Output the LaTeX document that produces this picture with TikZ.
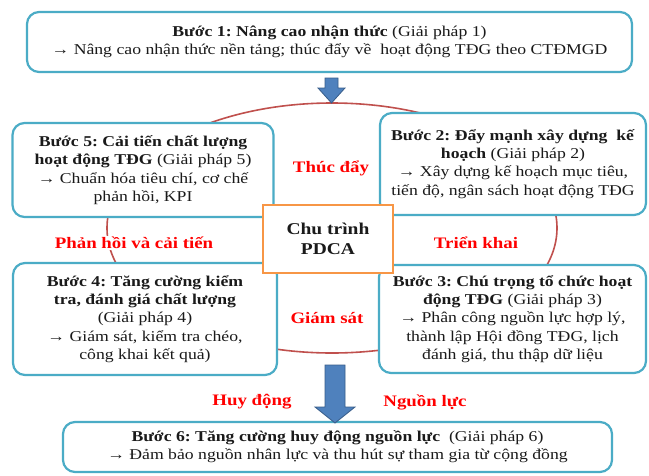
\documentclass[tikz,border=0pt]{standalone}
\usepackage{fontspec}
\setmainfont{Liberation Serif}[FakeStretch=1.18]
\frenchspacing
\definecolor{boxc}{HTML}{4BACC6}
\definecolor{pdcac}{HTML}{F79646}
\definecolor{cyc}{HTML}{C0504D}
\definecolor{arrf}{HTML}{4F81BD}
\definecolor{arrd}{HTML}{385D8A}
\definecolor{txt}{HTML}{1A1A1A}
\definecolor{labc}{HTML}{FF0000}
\begin{document}
\begin{tikzpicture}[x=1pt,y=-1pt,
  stepbox/.style={draw=boxc, line width=2.2pt, rounded corners=12pt, fill=white, align=center, inner sep=0pt, text=txt, font=\fontsize{15}{18.3}\selectfont},
  pdcabox/.style={draw=pdcac, line width=2pt, fill=white, align=center, inner sep=0pt, text=txt, font=\bfseries\fontsize{16.5}{20}\selectfont},
  lab/.style={text=labc, font=\bfseries\fontsize{16}{18}\selectfont, inner sep=1pt},
  blockarrow/.style={fill=arrf, draw=arrd, line width=0.8pt}
  ]
\useasboundingbox (0,0) rectangle (649,475);
\fill[white] (0,0) rectangle (649,475);
% PDCA cycle
\draw[cyc, line width=1.6pt] (332,228) ellipse [x radius=225, y radius=125];
% steps
\node[stepbox, minimum width=605, minimum height=60] (s1) at (329.5,42)
  {\textbf{Bước 1: Nâng cao nhận thức} (Giải pháp 1)\\
   → Nâng cao nhận thức nền tảng; thúc đẩy về\ \ hoạt động TĐG theo CTĐMGD};
\node[stepbox, minimum width=261, minimum height=94] (s5) at (143,170)
  {\textbf{Bước 5: Cải tiến chất lượng}\\
   \textbf{hoạt động TĐG} (Giải pháp 5)\\
   → Chuẩn hóa tiêu chí, cơ chế\\
   phản hồi, KPI};
\node[stepbox, minimum width=266, minimum height=102] (s2) at (513,164)
  {\textbf{Bước 2: Đẩy mạnh xây dựng\ \ kế}\\
   \textbf{hoạch} (Giải pháp 2)\\
   → Xây dựng kế hoạch mục tiêu,\\
   tiến độ, ngân sách hoạt động TĐG};
\node[stepbox, minimum width=264, minimum height=112] (s4) at (145,319)
  {\textbf{Bước 4: Tăng cường kiểm}\\
   \textbf{tra, đánh giá chất lượng}\\
   (Giải pháp 4)\\
   → Giám sát, kiểm tra chéo,\\
   công khai kết quả)};
\node[stepbox, minimum width=267, minimum height=108] (s3) at (512.5,319)
  {\textbf{Bước 3: Chú trọng tổ chức hoạt}\\
   \textbf{động TĐG} (Giải pháp 3)\\
   → Phân công nguồn lực hợp lý,\\
   thành lập Hội đồng TĐG, lịch\\
   đánh giá, thu thập dữ liệu};
\node[stepbox, minimum width=549, minimum height=50] (s6) at (337.5,447)
  {\textbf{Bước 6: Tăng cường huy động nguồn lực}\ \ (Giải pháp 6)\\
   → Đảm bảo nguồn nhân lực và thu hút sự tham gia từ cộng đồng};
% centre
\node[pdcabox, minimum width=130, minimum height=68] (pdca) at (328,239) {Chu trình\\PDCA};
% labels
\node[lab] (l1) at (331,168) {Thúc đẩy};
\node[lab] (l2) at (476,243) {Triển khai};
\node[lab] (l3) at (327,318) {Giám sát};
\node[lab, fill=white] (l4) at (134,243) {Phản hồi và cải tiến};
\node[lab] (l5) at (252,402) {Huy động};
\node[lab] (l6) at (425,402) {Nguồn lực};
% block arrows
\draw[blockarrow] (325,78) -- (338,78) -- (338,88) -- (345,88) -- (331.5,103) -- (318,88) -- (325,88) -- cycle;
\draw[blockarrow] (325,365) -- (345,365) -- (345,407) -- (355,407) -- (335,423) -- (315,407) -- (325,407) -- cycle;
\end{tikzpicture}
\end{document}
